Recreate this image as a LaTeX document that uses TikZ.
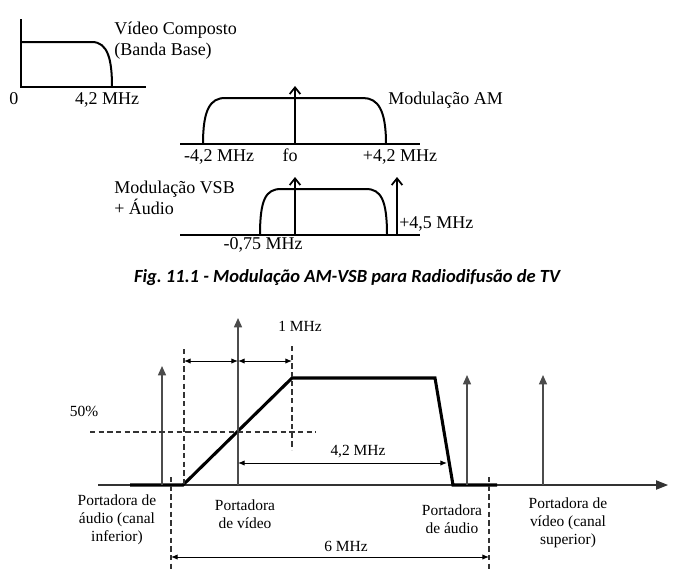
\documentclass[tikz,border=0pt]{standalone}
\usepackage{fontspec}
\setmainfont{Liberation Serif}
\newfontfamily\capfont{Carlito}
\usetikzlibrary{arrows.meta}
\begin{document}
\frenchspacing
\begin{tikzpicture}[x=0.75pt,y=-0.75pt,
  topline/.style={line width=1.5pt},
  barb/.style={line width=1.5pt,-{Straight Barb[length=5pt,width=8pt,line width=1.3pt]}},
  lbl/.style={font=\fontsize{13.5}{15}\selectfont,inner sep=0pt,text height=0.68em,text depth=0.2em},
  slbl/.style={font=\fontsize{11.6}{13.5}\selectfont,inner sep=0pt,align=center},
  axisline/.style={line width=0.8pt,black!80},
  thickbar/.style={line width=2.3pt,black},
  carrier/.style={line width=1.1pt,black!70,-{Triangle[length=7pt,width=6pt]}},
  dim/.style={line width=0.7pt,black,{Latex[length=5pt,width=4pt]}-{Latex[length=5pt,width=4pt]}},
  dashline/.style={line width=0.8pt,black!80,dash pattern=on 4pt off 2.5pt}]
\useasboundingbox (0,0) rectangle (684,579);
% ---------- baseband
\coordinate (bbtop) at (21,19); \coordinate (bbo) at (21,87); \coordinate (bbend) at (146,87);
\draw[topline] (bbtop) -- (bbo) -- (bbend);
\draw[topline] (21,42) -- (92,42) .. controls (108,42) and (112,60) .. (112,87);
\node[lbl,anchor=west] (vc) at (114,31) {Vídeo Composto};
\node[lbl,anchor=west] (bb) at (114,52) {(Banda Base)};
\node[lbl] (zero) at (14,101) {0};
\node[lbl] (f42) at (107,101) {4,2 MHz};
% ---------- AM
\coordinate (amL) at (180,144); \coordinate (amR) at (420,144);
\draw[topline] (amL) -- (amR);
\draw[topline] (203,144) .. controls (203,110) and (210,98) .. (225,98) -- (363,98) .. controls (378,98) and (386,110) .. (386,144);
\coordinate (fo) at (295,144); \coordinate (fotop) at (295,86);
\draw[barb] (fo) -- (fotop);
\node[lbl] (am1) at (219,158) {-4,2 MHz};
\node[lbl] (am2) at (290,158) {fo};
\node[lbl] (am3) at (400,158) {+4,2 MHz};
\node[lbl,anchor=west] (amt) at (388,101) {Modulação AM};
% ---------- VSB
\coordinate (vsL) at (180,235); \coordinate (vsR) at (420,235);
\draw[topline] (vsL) -- (vsR);
\draw[topline] (260,235) .. controls (260,199) and (266,189) .. (281,189) -- (366,189) .. controls (381,189) and (387,200) .. (387,235);
\coordinate (vfo) at (295,235); \coordinate (vfotop) at (295,177);
\draw[barb] (vfo) -- (vfotop);
\coordinate (aud) at (397,235); \coordinate (audtop) at (397,177);
\draw[barb] (aud) -- (audtop);
\node[lbl,anchor=west] (v45) at (399,225) {+4,5 MHz};
\node[lbl] (v075) at (263,246) {-0,75 MHz};
\node[lbl,anchor=west] (vsb1) at (114,190) {Modulação VSB};
\node[lbl,anchor=west] (vsb2) at (114,211) {+ Áudio};
% ---------- caption
\node[inner sep=0pt,font=\capfont\bfseries\itshape\fontsize{13.9}{16}\selectfont] (cap) at (347,278) {Fig. 11.1 - Modulação AM-VSB para Radiodifusão de TV};
% ---------- bottom diagram
\coordinate (ax0) at (98,485); \coordinate (ax1) at (668,485);
\draw[axisline,-{Triangle[length=9pt,width=7pt]}] (ax0) -- (ax1);
\draw[thickbar] (130,485) -- (183,485) -- (292,378) -- (435,378) -- (453,485) -- (497,485);
% carriers
\coordinate (c1) at (162,485); \coordinate (c1t) at (162,366);
\coordinate (c2) at (238,485); \coordinate (c2t) at (238,318);
\coordinate (c3) at (467,485); \coordinate (c3t) at (467,375);
\coordinate (c4) at (543,485); \coordinate (c4t) at (543,375);
\draw[carrier] (c1) -- (c1t);
\draw[carrier] (c2) -- (c2t);
\draw[carrier] (c3) -- (c3t);
\draw[carrier] (c4) -- (c4t);
% dashed lines
\coordinate (d1a) at (184,349); \coordinate (d1b) at (184,485);
\coordinate (d2a) at (292,346); \coordinate (d2b) at (292,450);
\coordinate (d3a) at (171,477); \coordinate (d3b) at (171,572);
\coordinate (d4a) at (489,477); \coordinate (d4b) at (489,572);
\coordinate (h1a) at (90,432); \coordinate (h1b) at (316,432);
\draw[dashline] (d1a) -- (d1b);
\draw[dashline] (d2a) -- (d2b);
\draw[dashline] (d3a) -- (d3b);
\draw[dashline] (d4a) -- (d4b);
\draw[dashline] (h1a) -- (h1b);
% dimension arrows
\coordinate (m1) at (184,361); \coordinate (m2) at (238,361); \coordinate (m3) at (292,361);
\draw[dim] (m1) -- (m2);
\draw[dim] (m2) -- (m3);
\coordinate (k1) at (238,463); \coordinate (k2) at (447,463);
\draw[dim] (k1) -- (k2);
\coordinate (s1) at (171,557); \coordinate (s2) at (489,557);
\draw[dim] (s1) -- (s2);
\node[slbl] (l1m) at (300,326) {1 MHz};
\node[slbl] (l50) at (84,411) {50\%};
\node[slbl] (l42) at (358,452) {4,2 MHz};
\node[slbl] (l6) at (346,546) {6 MHz};
\node[slbl] (pa1) at (117,520) {Portadora de\\áudio (canal\\inferior)};
\node[slbl] (pv1) at (245,514) {Portadora\\de vídeo};
\node[slbl] (pa2) at (452,519) {Portadora\\de áudio};
\node[slbl] (pv2) at (568,523) {Portadora de\\vídeo (canal\\superior)};
\end{tikzpicture}
\end{document}
